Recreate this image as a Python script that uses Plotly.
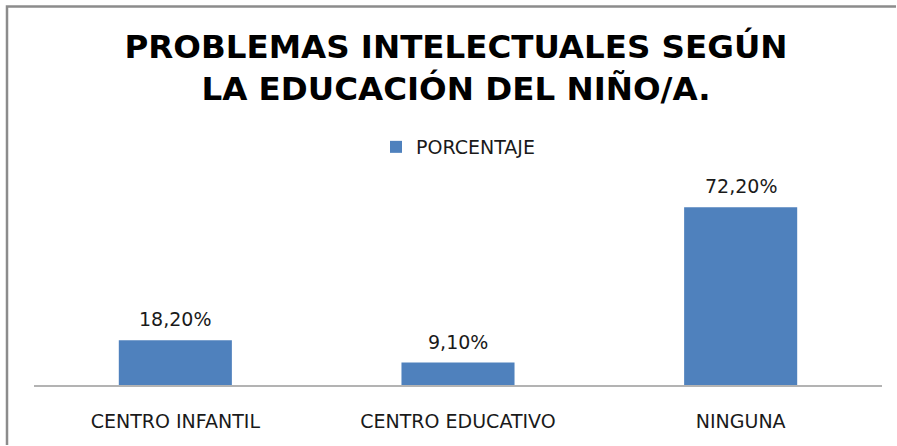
import plotly.graph_objects as go

# Chart data
categories = ["CENTRO INFANTIL", "CENTRO EDUCATIVO", "NINGUNA"]
porcentaje = [18.2, 9.1, 72.2]
value_labels = ["18,20%", "9,10%", "72,20%"]
series_name = "PORCENTAJE"
title_text = "PROBLEMAS INTELECTUALES SEGÚN<br>LA EDUCACIÓN DEL NIÑO/A."

W, H = 897, 446
M_L, M_R, M_T, M_B = 34, 15, 188, 61
PLOT_W = W - M_L - M_R
PLOT_H = H - M_T - M_B


def px_x(px):
    """Horizontal pixel position -> paper coordinate."""
    return (px - M_L) / PLOT_W


def px_y(py):
    """Vertical pixel position (from top) -> paper coordinate."""
    return (H - M_B - py) / PLOT_H


BAR_COLOR = "#4F81BD"
TEXT_COLOR = "#1a1a1a"
FONT = "DejaVu Sans"

fig = go.Figure()
fig.add_trace(go.Bar(
    x=categories,
    y=porcentaje,
    name=series_name,
    marker=dict(color=BAR_COLOR, line=dict(width=0)),
    showlegend=True,
))

# Value labels above each bar
for cat, val, lab in zip(categories, porcentaje, value_labels):
    fig.add_annotation(
        x=cat, y=val, xref="x", yref="y",
        text=lab, showarrow=False,
        yanchor="bottom", yshift=8,
        font=dict(family=FONT, size=19, color=TEXT_COLOR),
    )

# Chart frame: a single open path along the top and left edges
frame_color = "#8c8c8c"
fig.add_shape(
    type="path", xref="paper", yref="paper",
    path="M {x1},{y0} L {x0},{y0} L {x0},{y1}".format(
        x0=px_x(7), x1=px_x(W - 1), y0=px_y(6.5), y1=px_y(H - 1)),
    line=dict(color=frame_color, width=2.5),
)

fig.update_layout(
    width=W, height=H,
    margin=dict(l=M_L, r=M_R, t=M_T, b=M_B, pad=0),
    paper_bgcolor="white",
    plot_bgcolor="white",
    bargap=0.6,
    title=dict(
        text=title_text,
        x=456 / W, xanchor="center",
        xref="container", yref="container",
        y=1 - 58 / H, yanchor="middle",
        font=dict(family=FONT, size=32.5, color="black", weight="bold"),
    ),
    legend=dict(
        orientation="h",
        x=px_x(458), xanchor="center",
        y=px_y(147), yanchor="middle",
        font=dict(family=FONT, size=19, color=TEXT_COLOR),
        bgcolor="rgba(0,0,0,0)",
        itemwidth=30,
    ),
    xaxis=dict(
        showline=True, linecolor="#b3b3b3", linewidth=1.5,
        showgrid=False, ticks="", zeroline=False,
        ticklabelstandoff=18,
        tickfont=dict(family=FONT, size=19, color=TEXT_COLOR),
    ),
    yaxis=dict(
        range=[0, 80], showgrid=False, showline=False,
        showticklabels=False, zeroline=False, ticks="",
    ),
)

fig.write_html("out.html", config={"displayModeBar": False})
